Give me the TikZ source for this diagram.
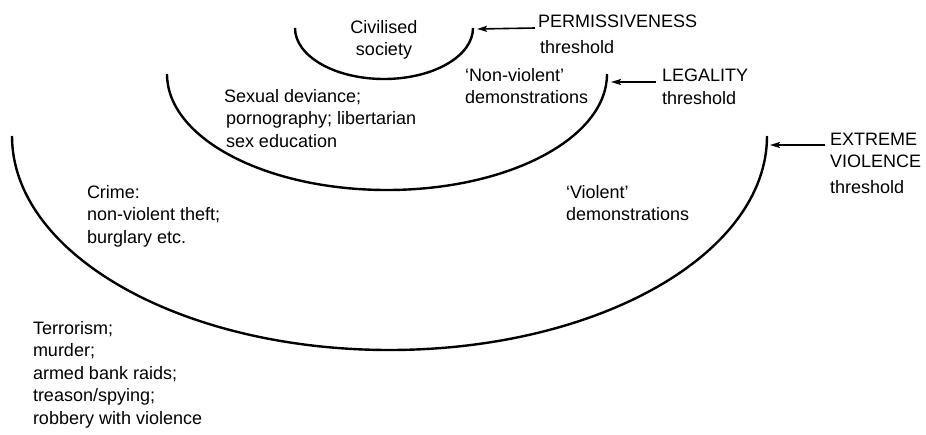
\documentclass[tikz,border=0pt]{standalone}
\usepackage{fontspec}
\setmainfont{Liberation Sans}
\usetikzlibrary{arrows.meta}
\begin{document}
\begin{tikzpicture}[x=1pt,y=-1pt,
  arcline/.style={line width=2.4pt},
  pointer/.style={line width=1.6pt,-{Stealth[length=10pt,width=6pt,inset=2pt]}},
  lbl/.style={inner sep=0pt,outer sep=0pt,align=left,anchor=north west,
    font=\fontsize{18}{22.5}\selectfont},
  lblc/.style={lbl,align=center,anchor=north}]
\useasboundingbox (0,0) rectangle (926,434);
% thresholds (half ellipses)
\draw[arcline] (295,28) arc[start angle=180,end angle=0,x radius=89,y radius=51];
\draw[arcline] (167,74) arc[start angle=180,end angle=0,x radius=220,y radius=116];
\draw[arcline] (12,136) arc[start angle=180,end angle=0,x radius=377.5,y radius=214];
% arrow tips
\coordinate (tipP) at (477,29);
\coordinate (tipL) at (611,82);
\coordinate (tipE) at (770,145);
% labels
\node[lblc] (civ) at (384,20) {Civilised\\society};
\node[lbl] (perm) at (538,15) {PERMISSIVENESS\\[3pt]\hspace*{2pt}threshold};
\node[lbl] (nonv) at (465,68) {`Non-violent'\\demonstrations};
\node[lbl] (legal) at (662,69) {LEGALITY\\threshold};
\node[lbl] (sex) at (224,89) {Sexual deviance;\\\hspace*{2pt}pornography; libertarian\\\hspace*{2pt}sex education};
\node[lbl] (ext) at (830,133) {EXTREME\\VIOLENCE\\[3pt]threshold};
\node[lbl] (crime) at (87,185) {Crime:\\non-violent theft;\\burglary etc.};
\node[lbl] (viol) at (566,185) {`Violent'\\demonstrations};
\node[lbl] (terr) at (33,321) {Terrorism;\\murder;\\armed bank raids;\\treason/spying;\\robbery with violence};
% pointers
\draw[pointer] ([shift={(-3pt,-13pt)}]perm.north west) -- (tipP);
\draw[pointer] ([shift={(-6pt,-13pt)}]legal.north west) -- (tipL);
\draw[pointer] ([shift={(-5pt,-12pt)}]ext.north west) -- (tipE);
\end{tikzpicture}
\end{document}
